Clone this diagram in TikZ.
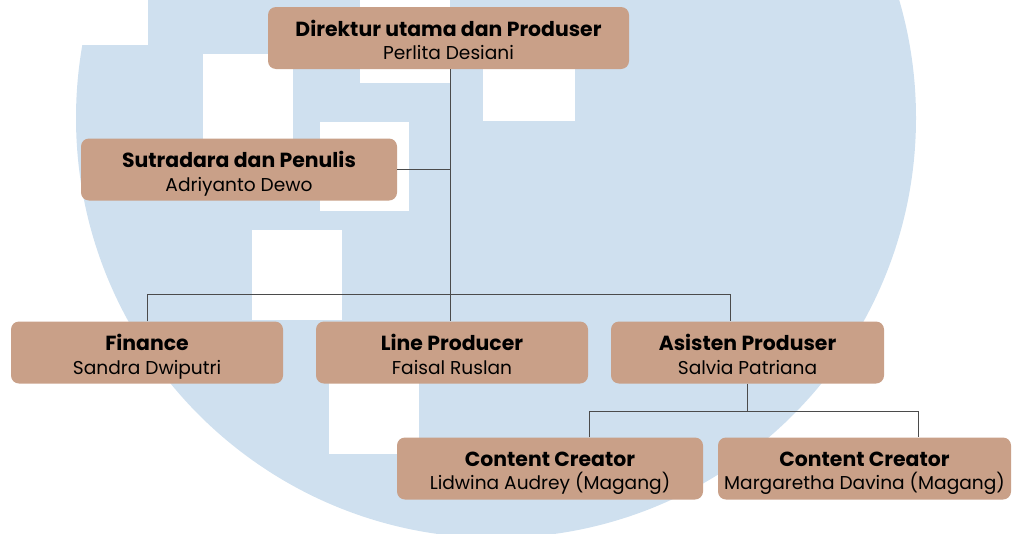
\documentclass[tikz,border=0pt]{standalone}
\usepackage{fontspec}
\setmainfont{Poppins}
\usetikzlibrary{positioning}

\definecolor{tan}{RGB}{201,160,136}
\definecolor{bgblue}{RGB}{207,224,239}
\definecolor{linegray}{RGB}{75,75,75}

\tikzset{
  role/.style={rectangle, rounded corners=8pt, fill=tan, align=center,
    minimum height=62pt, inner sep=0pt, font=\fontsize{18.6}{23.5}\selectfont},
  conn/.style={draw=linegray, line width=1pt},
  hole/.style={fill=white}
}

\newcommand{\roletext}[2]{\rule{0pt}{24.5pt}\textbf{\fontsize{20.4}{23.5}\selectfont #1}\\#2\rule[-5pt]{0pt}{5pt}}

\begin{document}
\begin{tikzpicture}[x=1pt, y=-1pt]
    \useasboundingbox (0,0) rectangle (1017,533);
    % background circle
    \fill[bgblue] (496,118) circle (420pt);
    % white squares
    \fill[hole] (0,0) rectangle (148,45);
    \fill[hole] (203,54) rectangle (293,145);
    \fill[hole] (360,0) rectangle (450,83);
    \fill[hole] (483,60) rectangle (575,121);
    \fill[hole] (320,122) rectangle (409,211);
    \fill[hole] (252,230) rectangle (342,320);
    \fill[hole] (329,375) rectangle (419,454);

    % Roles
    \node[role, minimum width=361pt] (dir) at (448.5,38) {\roletext{Direktur utama dan Produser}{Perlita Desiani}};
    \node[role, minimum width=316pt] (sut) at (239,169.5) {\roletext{Sutradara dan Penulis}{Adriyanto Dewo}};
    \node[role, minimum width=272pt] (fin) at (147,352.5) {\roletext{Finance}{Sandra Dwiputri}};
    \node[role, minimum width=272pt] (lp) at (452,352.5) {\roletext{Line Producer}{Faisal Ruslan}};
    \node[role, minimum width=273pt] (asp) at (747.5,352.5) {\roletext{Asisten Produser}{Salvia Patriana}};
    \node[role, minimum width=306pt] (cc1) at (550,468.5) {\roletext{Content Creator}{Lidwina Audrey (Magang)}};
    \node[role, minimum width=293pt] (cc2) at (864.5,468.5) {\roletext{Content Creator}{Margaretha Davina (Magang)}};

    % Connectors
    \draw[conn] ([xshift=1.5pt]dir.south) -- ([xshift=1.5pt]dir.south |- lp.north);
    \draw[conn] (sut.east) -- ([xshift=1.5pt]sut.east -| dir.south);
    \draw[conn] (fin.north) -- ++(0,-27) -| ([xshift=-17.5pt]asp.north);
    \draw[conn] (asp.south) -- ++(0,28) coordinate (split);
    \draw[conn] ([xshift=39pt]cc1.north) |- (split) -| ([xshift=53.5pt]cc2.north);
\end{tikzpicture}
\end{document}
